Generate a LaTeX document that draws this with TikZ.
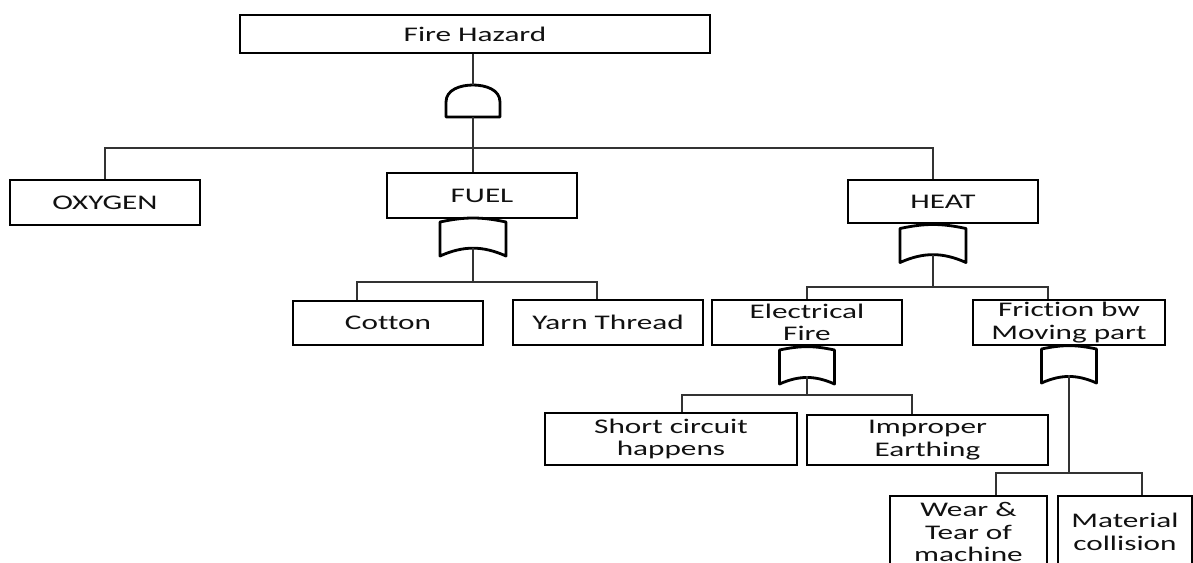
\documentclass[tikz,border=0pt]{standalone}
\usepackage{fontspec}
\setmainfont{Carlito}[FakeStretch=1.5, Ligatures=NoCommon]
\usepackage{tikz}
\usetikzlibrary{calc}
\definecolor{Ink}{HTML}{111111}

\begin{document}
\begin{tikzpicture}[x=0.025cm, y=0.025cm, font=\fontsize{14.8}{16}\selectfont,
    event/.style={draw=black, line width=1.8pt, text=Ink, inner sep=0pt, align=center,
                  minimum width=4.75cm, minimum height=1.125cm},
    conn/.style={draw=black!80, line width=0.8pt},
    gateline/.style={draw=black, fill=white, line width=2pt, line join=round},
    andgate/.pic={
      \draw[gateline] (-27,-16) -- (-27,-1) to[out=90, in=180] (0,16)
        to[out=0, in=90] (27,-1) -- (27,-16) -- cycle;
      \coordinate (-top) at (0,16);
      \coordinate (-bot) at (0,-16);
    },
    orgate/.pic={
      \draw[gateline] (-#1,15) to[bend left=12] (#1,15) -- (#1,-19)
        to[bend right=24] (-#1,-19) -- cycle;
      \coordinate (-top) at (0,19);
      \coordinate (-bot) at (0,-11);
    }]
  \useasboundingbox (0,-562) rectangle (1193,0);
  \clip (0,-562) rectangle (1193,0);

  % Top event
  \node[event, minimum width=11.75cm, minimum height=0.95cm] (fire) at (475,-34) {Fire Hazard};
  \pic (andg) at (473,-101) {andgate};

  % Oxygen, fuel, heat
  \node[event] (oxygen) at (105,-202.5) {OXYGEN};
  \node[event] (fuel) at (482,-195.5) {FUEL};
  \node[event, minimum height=1.075cm] (heat) at (943,-201.5) {HEAT};
  \pic (fuelg) at (473,-237) {orgate=33};
  \pic (heatg) at (933,-243.5) {orgate=33};

  % Fuel causes
  \node[event, minimum height=1.1cm] (cotton) at (388,-323) {Cotton};
  \node[event] (yarn) at (608,-322.5) {Yarn Thread};

  % Heat causes
  \node[event] (elec) at (807,-322.5) {Electrical\\Fire};
  \node[event, minimum width=4.8cm] (fric) at (1069,-322.5) {Friction bw\\Moving part};
  \pic (elecg) at (807,-365) {orgate=27.5};
  \pic (fricg) at (1069,-364) {orgate=27.5};

  % Electrical causes
  \node[event, minimum width=6.3cm, minimum height=1.3cm] (short) at (671,-439) {Short circuit\\happens};
  \node[event, minimum width=6.025cm, minimum height=1.25cm] (improper) at (927.5,-440) {Improper\\Earthing};

  % Friction causes
  \node[event, minimum width=3.925cm, minimum height=1.8cm] (wear) at (968.5,-532) {Wear \&\\Tear of\\machine};
  \node[event, minimum width=3.35cm, minimum height=1.8cm] (material) at (1125,-532) {Material\\collision};

  % Connectors
  \coordinate (topbus) at (473,-148);
  \coordinate (fuelbus) at (473,-282);
  \coordinate (heatbus) at (933,-287);
  \coordinate (elecbus) at (807,-395);
  \coordinate (fricbus) at (1069,-473);
  \draw[conn] (fire.south -| andg-top) -- (andg-top);
  \draw[conn] (andg-bot) -- (andg-bot |- fuel.north);
  \draw[conn] (oxygen.north) |- (topbus) -| (heatg-top |- heat.north);
  \draw[conn] (fuelg-bot) -- (fuelbus);
  \draw[conn] ($(cotton.north)+(-31,0)$) |- (fuelbus) -| ($(yarn.north)+(-11,0)$);
  \draw[conn] (heatg-bot) -- (heatbus);
  \draw[conn] (elec.north) |- (heatbus) -| ($(fric.north)+(-21,0)$);
  \draw[conn] (elecg-bot) -- (elecbus);
  \draw[conn] ($(short.north)+(11,0)$) |- (elecbus) -| ($(improper.north)+(-15.5,0)$);
  \draw[conn] (fricg-bot) -- (fricbus);
  \draw[conn] ($(wear.north)+(27.5,0)$) |- (fricbus) -| ($(material.north)+(17,0)$);
\end{tikzpicture}
\end{document}
